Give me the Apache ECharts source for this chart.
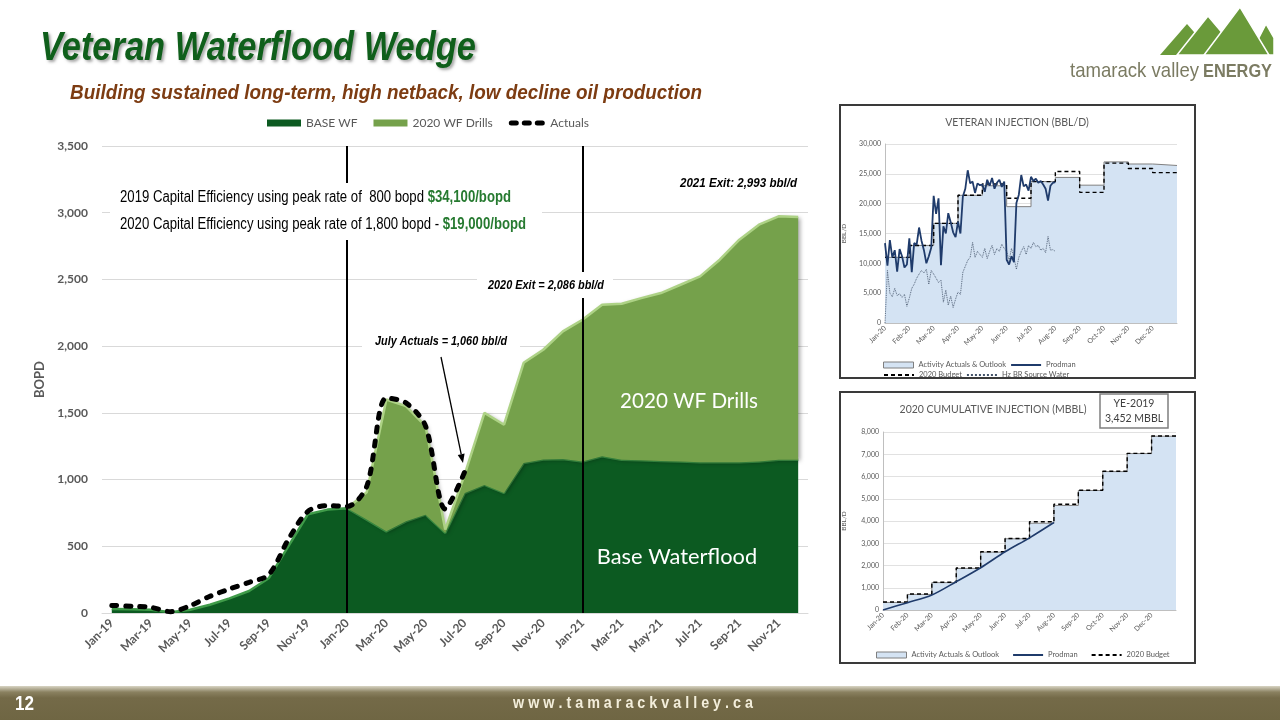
<!DOCTYPE html>
<html><head><meta charset="utf-8">
<script src="https://cdn.jsdelivr.net/npm/echarts@6/dist/echarts.min.js"></script>
<style>html,body{margin:0;padding:0;background:#fff}#c{width:1280px;height:720px}</style>
</head><body><div id="c"></div>
<script>
// ---------- Main chart data ----------
const months = ['Jan-19','Feb-19','Mar-19','Apr-19','May-19','Jun-19','Jul-19','Aug-19','Sep-19','Oct-19','Nov-19','Dec-19',
  'Jan-20','Feb-20','Mar-20','Apr-20','May-20','Jun-20','Jul-20','Aug-20','Sep-20','Oct-20','Nov-20','Dec-20',
  'Jan-21','Feb-21','Mar-21','Apr-21','May-21','Jun-21','Jul-21','Aug-21','Sep-21','Oct-21','Nov-21','Dec-21'];
const baseWF = [30,28,25,5,25,62,110,165,260,500,740,775,
  785,700,612,687,737,600,899,960,900,1124,1150,1154,
  1136,1174,1149,1144,1140,1136,1130,1130,1130,1136,1149,1149];
const drills2020 = ['-','-','-','-','-','-','-','-','-','-','-','-',
  0,205,988,863,663,25,141,540,511,751,823,957,
  1062,1137,1169,1216,1258,1324,1393,1518,1668,1774,1824,1819];
const actuals = [57,50,42,10,55,125,180,230,287,550,762,805,
  799,949,1611,1575,1400,780,1060,'-','-','-','-','-',
  '-','-','-','-','-','-','-','-','-','-','-','-'];
const yTicks = [0,500,1000,1500,2000,2500,3000,3500];

// ---------- Veteran injection inset (BBL/D) ----------
const injMonths = ['Jan-20','Feb-20','Mar-20','Apr-20','May-20','Jun-20','Jul-20','Aug-20','Sep-20','Oct-20','Nov-20','Dec-20'];
const injActivity = [11000,13000,16700,21400,23000,19500,23700,24400,23100,27000,26650,26400,26400];
const injBudget   = [11000,13000,16700,21400,23300,20900,23700,25400,21900,26800,25900,25200,25200];
// sampled every 0.1 month, Jan-20 .. Aug-20
const prodmanDaily = [13400,9600,13900,11000,12200,8600,12400,11200,9300,9800,
  14200,8500,13400,13100,16000,13800,12200,10000,11200,12600,
  21300,18300,20900,9700,16200,15000,18400,16900,15200,14400,
  17000,15000,21200,22500,25600,23400,23700,21800,23400,23100,
  23200,22000,24000,23000,24300,22500,23500,24000,22800,23700,
  10600,9800,11200,10200,20100,21500,24800,22900,23200,22200,
  24500,23800,24200,23500,23800,23200,22500,20500,23000,23500,23600];
const hzBrWater = [0,8800,5000,4400,5800,4600,4900,4300,4800,2800,
  4200,5800,6500,7500,8200,8800,8400,9000,6500,8800,
  8200,7500,6800,7200,3500,5500,3000,4500,2600,4000,
  5200,4800,8500,9500,10500,11000,13500,11000,12000,11500,
  11000,12500,10800,12000,13000,11500,12500,12000,13200,12500,
  12000,10500,12500,11000,9000,11000,12000,12800,11500,13000,
  12500,13500,12800,13000,12200,12500,11800,14500,12200,12300,12000];

// ---------- Cumulative injection inset (MBBL) ----------
const cumActivity = [340,700,1230,1870,2600,3200,3900,4700,5370,6220,7030,7810,7810];
const cumBudget   = [360,720,1245,1885,2615,3215,3965,4755,5385,6235,7040,7820,7820];
const cumProdman  = [0,330,673,1271,1899,2617,3244,3932];

// ---------- helpers ----------
const mctx = document.createElement('canvas').getContext('2d');
function tw(t, f){ mctx.font = f; return mctx.measureText(t).width; }
const LS = '"Liberation Sans", Arial, sans-serif';
function fitText(text, font, x, y, w, extra){
  const s = w / tw(text, font);
  return Object.assign({type:'text', x:x, y:y, scaleX:s, z:120,
    style:Object.assign({text:text, font:font, fill:'#000', align:'left', verticalAlign:'middle'}, extra||{})});
}
function richLine(normal, bold, x, y, w, fs){
  const fN = fs+'px '+LS, fB = 'bold '+fs+'px '+LS;
  const s = w / (tw(normal, fN) + tw(bold, fB));
  return {type:'text', x:x, y:y, scaleX:s, z:120,
    style:{text: normal + '{g|' + bold + '}', font:fN, fill:'#000', align:'left', verticalAlign:'middle',
      rich:{g:{fill:'#267a30', fontWeight:'bold', fontSize:fs, fontFamily:'Liberation Sans'}}}};
}
function fontFit(text, family, weight, w){ return 20 * w / tw(text, weight+' 20px '+family); }

const chart = echarts.init(document.getElementById('c'), null, {renderer:'canvas'});

// arrow geometry (annotation)
const a0 = [441,357], a1 = [463,463];
const adx = a1[0]-a0[0], ady = a1[1]-a0[1], al = Math.hypot(adx,ady);
const ux = adx/al, uy = ady/al;
const ab = [a1[0]-ux*9, a1[1]-uy*9];
const arrowHead = [[a1[0],a1[1]],[ab[0]+uy*3.5, ab[1]-ux*3.5],[ab[0]-uy*3.5, ab[1]+ux*3.5]];

const drillsFs = fontFit('2020 WF Drills','Lato','normal',138);
const baseFs = fontFit('Base Waterflood','Lato','normal',160);

const graphics = [
  fitText('Veteran Waterflood Wedge', 'italic bold 40px '+LS, 40, 49, 436,
    {fill:'#0f5f1b', textShadowColor:'rgba(0,0,0,0.35)', textShadowBlur:3, textShadowOffsetX:2, textShadowOffsetY:2}),
  fitText('Building sustained long-term, high netback, low decline oil production', 'italic bold 20px '+LS, 70, 93, 632,
    {fill:'#7d3c12'}),
  // logo
  {type:'polygon', z:100, shape:{points:[[1160,55],[1187,24],[1214,55]]}, style:{fill:'#6a9a3a'}},
  {type:'polygon', z:101, shape:{points:[[1177,55],[1208,16],[1241,55]]}, style:{fill:'#6a9a3a', stroke:'#fff', lineWidth:1.5}},
  {type:'polygon', z:102, shape:{points:[[1250,55],[1266,24],[1274,38],[1274,55]]}, style:{fill:'#6a9a3a', stroke:'#fff', lineWidth:1.5}},
  {type:'polygon', z:103, shape:{points:[[1204,55],[1240,7],[1269,55]]}, style:{fill:'#6a9a3a', stroke:'#fff', lineWidth:1.5}},
  fitText('tamarack valley', '21px '+LS, 1070, 71, 129, {fill:'#7b7b62'}),
  fitText('ENERGY', 'bold 18px '+LS, 1203, 72, 69, {fill:'#7b7b62'}),
  // white masks under annotations
  {type:'rect', z:110, shape:{x:110,y:183,width:432,height:57}, style:{fill:'#fff'}},
  {type:'rect', z:110, shape:{x:477,y:272,width:136,height:26}, style:{fill:'#fff'}},
  {type:'rect', z:110, shape:{x:362,y:333,width:158,height:19}, style:{fill:'#fff'}},
  richLine('2019 Capital Efficiency using peak rate of  800 bopd ', '$34,100/bopd', 120, 198, 391, 16),
  richLine('2020 Capital Efficiency using peak rate of 1,800 bopd - ', '$19,000/bopd', 120, 225, 406, 16),
  fitText('2021 Exit: 2,993 bbl/d', 'italic bold 13px '+LS, 680, 183, 117),
  fitText('2020 Exit = 2,086 bbl/d', 'italic bold 13px '+LS, 488, 285, 116),
  fitText('July Actuals = 1,060 bbl/d', 'italic bold 13px '+LS, 375, 341, 132),
  {type:'polyline', z:120, shape:{points:[a0,[ab[0],ab[1]]]}, style:{stroke:'#000', lineWidth:1.3}},
  {type:'polygon', z:120, shape:{points:arrowHead}, style:{fill:'#000'}},
  {type:'text', z:120, x:689, y:401, style:{text:'2020 WF Drills', font:drillsFs.toFixed(1)+'px Lato', fill:'#fff', align:'center', verticalAlign:'middle'}},
  {type:'text', z:120, x:677, y:557, style:{text:'Base Waterflood', font:baseFs.toFixed(1)+'px Lato', fill:'#fff', align:'center', verticalAlign:'middle'}},
  // inset frames
  {type:'rect', z:100, shape:{x:840,y:105,width:355,height:273}, style:{fill:'none', stroke:'#3a3a3a', lineWidth:2}},
  {type:'text', z:100, x:1017, y:123, style:{text:'VETERAN INJECTION (BBL/D)', font:'10.5px Lato', fill:'#595959', align:'center', verticalAlign:'middle'}},
  {type:'rect', z:100, shape:{x:840,y:392,width:355,height:271}, style:{fill:'none', stroke:'#3a3a3a', lineWidth:2}},
  {type:'text', z:100, x:993, y:410, style:{text:'2020 CUMULATIVE INJECTION (MBBL)', font:'10.5px Lato', fill:'#595959', align:'center', verticalAlign:'middle'}},
  {type:'rect', z:100, shape:{x:1100,y:394,width:68,height:34}, style:{fill:'#fff', stroke:'#7f7f7f', lineWidth:1.5}},
  {type:'text', z:101, x:1134, y:404, style:{text:'YE-2019', font:'10.5px Lato', fill:'#404040', align:'center', verticalAlign:'middle'}},
  {type:'text', z:101, x:1134, y:419, style:{text:'3,452 MBBL', font:'10.5px Lato', fill:'#404040', align:'center', verticalAlign:'middle'}},
  // footer
  {type:'rect', z:100, shape:{x:0,y:686,width:1280,height:34}, style:{fill:{type:'linear',x:0,y:0,x2:0,y2:1,colorStops:[
    {offset:0,color:'#d8d4c4'},{offset:0.18,color:'#8a8160'},{offset:0.35,color:'#746a48'},{offset:1,color:'#6f6643'}]}}},
  fitText('12', 'bold 20px '+LS, 15, 704, 19, {fill:'#fff'}),
  fitText('w w w . t a m a r a c k v a l l e y . c a', 'bold 16px '+LS, 513, 704, 240, {fill:'#f3eedb'})
];

const smallAxisLabel = {fontSize:7, color:'#595959', fontFamily:'Lato'};
const noSym = {opacity:0};

const option = {
  animation:false,
  backgroundColor:'#fff',
  grid:[
    {left:102, top:146, width:706, height:467},
    {left:885, top:144, width:292, height:179},
    {left:883, top:432, width:293, height:178}
  ],
  legend:[
    {data:[{name:'BASE WF', icon:'rect'},{name:'2020 WF Drills', icon:'rect'},
           {name:'Actuals', itemStyle:noSym, lineStyle:{width:5, type:[5,8], cap:'round', color:'#000'}}],
     left:262, top:112, itemWidth:34, itemHeight:7, itemGap:16, selectedMode:false,
     textStyle:{color:'#595959', fontSize:12, fontFamily:'Lato'}},
    {data:[{name:'Activity Actuals & Outlook', icon:'rect', itemStyle:{color:'#d4e3f3', borderColor:'#7f7f7f', borderWidth:1}},
           {name:'Prodman', itemStyle:noSym}],
     left:878, top:356, itemWidth:30, itemHeight:6, itemGap:4, selectedMode:false,
     textStyle:{color:'#595959', fontSize:7.5, fontFamily:'Lato', width:125}},
    {data:[{name:'2020 Budget', itemStyle:noSym},{name:'Hz BR Source Water', itemStyle:noSym}],
     left:878, top:366, itemWidth:30, itemHeight:6, itemGap:4, selectedMode:false,
     textStyle:{color:'#595959', fontSize:7.5, fontFamily:'Lato', width:125}},
    {data:[{name:'Activity Actuals & Outlook', icon:'rect', itemStyle:{color:'#d4e3f3', borderColor:'#7f7f7f', borderWidth:1}},
           {name:'Prodman', itemStyle:noSym},{name:'2020 Budget', itemStyle:noSym}],
     left:871, top:646, itemWidth:30, itemHeight:6, itemGap:13, selectedMode:false,
     textStyle:{color:'#595959', fontSize:7.5, fontFamily:'Lato'}}
  ],
  xAxis:[
    {type:'category', gridIndex:0, data:months, boundaryGap:true,
     axisTick:{show:false}, axisLine:{show:true, lineStyle:{color:'#d9d9d9'}},
     axisLabel:{interval:1, rotate:45, color:'#595959', fontWeight:'bold', fontSize:12, fontFamily:'Lato', margin:8}},
    {type:'value', gridIndex:1, min:0, max:12, interval:1, splitLine:{show:false},
     axisTick:{show:false}, axisLine:{show:true, lineStyle:{color:'#bfbfbf'}},
     axisLabel:Object.assign({rotate:45, margin:4, formatter:v=>injMonths[v]||''}, smallAxisLabel)},
    {type:'value', gridIndex:2, min:0, max:12, interval:1, splitLine:{show:false},
     axisTick:{show:false}, axisLine:{show:true, lineStyle:{color:'#bfbfbf'}},
     axisLabel:Object.assign({rotate:45, margin:4, formatter:v=>injMonths[v]||''}, smallAxisLabel)}
  ],
  yAxis:[
    {type:'value', gridIndex:0, min:yTicks[0], max:yTicks[yTicks.length-1], interval:500,
     axisLine:{show:false}, axisTick:{show:false},
     splitLine:{lineStyle:{color:'#d9d9d9', width:1}},
     axisLabel:{color:'#595959', fontWeight:'bold', fontSize:12, fontFamily:'Lato', margin:14,
       formatter:v=>v.toLocaleString('en-US')},
     name:'BOPD', nameLocation:'middle', nameGap:54,
     nameTextStyle:{color:'#595959', fontWeight:'bold', fontSize:13, fontFamily:'Lato'}},
    {type:'value', gridIndex:1, min:0, max:30000, interval:5000,
     axisLine:{show:true, lineStyle:{color:'#bfbfbf'}}, axisTick:{show:false},
     splitLine:{lineStyle:{color:'#d9d9d9', width:0.8}},
     axisLabel:Object.assign({margin:4, formatter:v=>v.toLocaleString('en-US')}, smallAxisLabel),
     name:'BBL/D', nameLocation:'middle', nameGap:38, nameTextStyle:{fontSize:6.5, color:'#595959', fontFamily:'Lato'}},
    {type:'value', gridIndex:2, min:0, max:8000, interval:1000,
     axisLine:{show:true, lineStyle:{color:'#bfbfbf'}}, axisTick:{show:false},
     splitLine:{lineStyle:{color:'#d9d9d9', width:0.8}},
     axisLabel:Object.assign({margin:4, formatter:v=>v.toLocaleString('en-US')}, smallAxisLabel),
     name:'BBL/D', nameLocation:'middle', nameGap:36, nameTextStyle:{fontSize:6.5, color:'#595959', fontFamily:'Lato'}}
  ],
  series:[
    {name:'BASE WF', type:'line', xAxisIndex:0, yAxisIndex:0, stack:'main', data:baseWF, symbol:'none', z:2,
     itemStyle:{color:'#0c5a21'}, lineStyle:{color:'#3f9b49', width:2.5},
     areaStyle:{color:'#0c5a21', opacity:1}},
    {name:'2020 WF Drills', type:'line', xAxisIndex:0, yAxisIndex:0, stack:'main', data:drills2020, symbol:'none', z:3,
     itemStyle:{color:'#75a14b'}, lineStyle:{color:'#add285', width:2.5},
     areaStyle:{color:'#75a14b', opacity:1, shadowColor:'rgba(0,0,0,0.35)', shadowBlur:4, shadowOffsetX:2, shadowOffsetY:1}},
    {name:'Actuals', type:'line', xAxisIndex:0, yAxisIndex:0, data:actuals, symbol:'none', smooth:0.3, z:5,
     itemStyle:{color:'#000'}, lineStyle:{color:'#000', width:5, type:[5,9], cap:'round'},
     markLine:{silent:true, symbol:'none', label:{show:false},
       lineStyle:{color:'#000', width:2, type:'solid', cap:'butt'},
       data:[{xAxis:'Jan-20'},{xAxis:'Jan-21'}]}},
    // inset 1
    {name:'Activity Actuals & Outlook', type:'line', xAxisIndex:1, yAxisIndex:1, step:'end', symbol:'none', z:2,
     data:injActivity.map((v,i)=>[i,v]), itemStyle:{color:'#d4e3f3'},
     lineStyle:{color:'#808080', width:1}, areaStyle:{color:'#d4e3f3', opacity:1}},
    {name:'2020 Budget', type:'line', xAxisIndex:1, yAxisIndex:1, step:'end', symbol:'none', z:3,
     data:injBudget.map((v,i)=>[i,v]), itemStyle:{color:'#000'},
     lineStyle:{color:'#000', width:1.4, type:[4,3]}},
    {name:'Hz BR Source Water', type:'line', xAxisIndex:1, yAxisIndex:1, symbol:'none', z:4,
     data:hzBrWater.map((v,i)=>[i/10,v]), itemStyle:{color:'#44546a'},
     lineStyle:{color:'#44546a', width:0.9, type:'dotted'}},
    {name:'Prodman', type:'line', xAxisIndex:1, yAxisIndex:1, symbol:'none', z:5,
     data:prodmanDaily.map((v,i)=>[i/10,v]), itemStyle:{color:'#1f3b6b'},
     lineStyle:{color:'#1f3b6b', width:1.8}},
    // inset 2
    {name:'Activity Actuals & Outlook', type:'line', xAxisIndex:2, yAxisIndex:2, step:'end', symbol:'none', z:2,
     data:cumActivity.map((v,i)=>[i,v]), itemStyle:{color:'#d4e3f3'},
     lineStyle:{color:'#808080', width:1}, areaStyle:{color:'#d4e3f3', opacity:1}},
    {name:'2020 Budget', type:'line', xAxisIndex:2, yAxisIndex:2, step:'end', symbol:'none', z:3,
     data:cumBudget.map((v,i)=>[i,v]), itemStyle:{color:'#000'},
     lineStyle:{color:'#000', width:1.4, type:[4,3]}},
    {name:'Prodman', type:'line', xAxisIndex:2, yAxisIndex:2, symbol:'none', smooth:0.3, z:5,
     data:cumProdman.map((v,i)=>[i,v]), itemStyle:{color:'#1f3b6b'},
     lineStyle:{color:'#1f3b6b', width:1.6}}
  ],
  graphic:{elements:graphics}
};
chart.setOption(option);
</script>
</body></html>
